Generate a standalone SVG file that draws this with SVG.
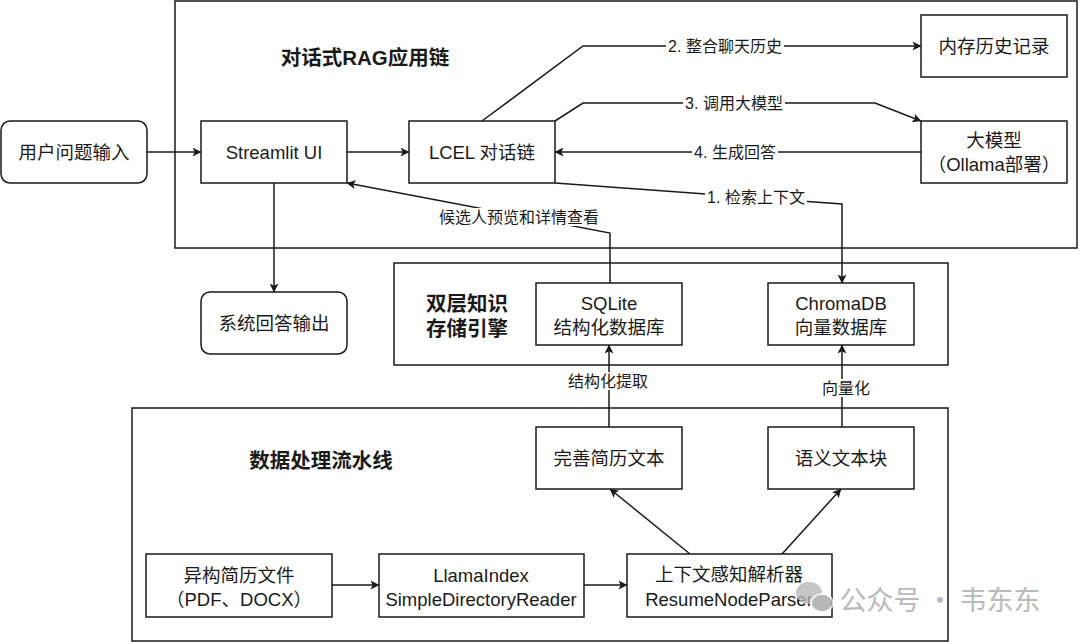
<svg xmlns="http://www.w3.org/2000/svg" width="1080" height="642" viewBox="0 0 1080 642">
<defs>
<marker id="arr" viewBox="0 0 10 10" refX="9.5" refY="5" markerWidth="9" markerHeight="9" markerUnits="userSpaceOnUse" orient="auto">
<path d="M0,0 L10,5 L0,10 L2.5,5 z" fill="#1a1a1a"/>
</marker>
<style>
.box{fill:#fff;stroke:#1a1a1a;stroke-width:1.5}
.cont{fill:none;stroke:#1a1a1a;stroke-width:1.5}
.t{font-family:"Liberation Sans","Noto Sans CJK SC",sans-serif;font-size:18.5px;fill:#1a1a1a;text-anchor:middle;dominant-baseline:central}
.title{font-family:"Liberation Sans","Noto Sans CJK SC",sans-serif;font-size:20.5px;font-weight:bold;fill:#1a1a1a;text-anchor:middle;dominant-baseline:central}
.lbl{font-family:"Liberation Sans","Noto Sans CJK SC",sans-serif;font-size:16px;fill:#1a1a1a;text-anchor:middle;dominant-baseline:central}
.e{fill:none;stroke:#1a1a1a;stroke-width:1.5}
.bg{fill:#fff}
</style>
</defs>
<rect width="1080" height="642" fill="#fff"/>

<!-- containers -->
<g id="container-rag">
<rect class="cont" x="175" y="1" width="902" height="247"/>
<text class="title" x="365" y="57">对话式RAG应用链</text>
</g>
<g id="container-storage">
<rect class="cont" x="394" y="263" width="554" height="102"/>
<text class="title" x="467" y="303">双层知识</text>
<text class="title" x="467" y="328">存储引擎</text>
</g>
<g id="container-pipeline">
<rect class="cont" x="132" y="408" width="816" height="233"/>
<text class="title" x="321" y="460">数据处理流水线</text>
</g>

<!-- connectors -->
<g id="connectors">
<line class="e" x1="147" y1="152" x2="201" y2="152" marker-end="url(#arr)"/>
<line class="e" x1="347" y1="152" x2="409" y2="152" marker-end="url(#arr)"/>
<line class="e" x1="274" y1="183" x2="274" y2="292" marker-end="url(#arr)"/>
<polyline class="e" points="482,121 583,46 921,46" marker-end="url(#arr)"/>
<polyline class="e" points="555,121 583,103 875,103 921,121" marker-end="url(#arr)"/>
<line class="e" x1="921" y1="152" x2="555" y2="152" marker-end="url(#arr)"/>
<polyline class="e" points="555,183 842,204 842,283" marker-end="url(#arr)"/>
<polyline class="e" points="610,283 610,233 347,183" marker-end="url(#arr)"/>
<line class="e" x1="609" y1="427" x2="609" y2="345" marker-end="url(#arr)"/>
<line class="e" x1="842" y1="427" x2="842" y2="345" marker-end="url(#arr)"/>
<line class="e" x1="332" y1="585" x2="379" y2="585" marker-end="url(#arr)"/>
<line class="e" x1="584" y1="585" x2="627" y2="585" marker-end="url(#arr)"/>
<line class="e" x1="690" y1="554" x2="610" y2="489" marker-end="url(#arr)"/>
<line class="e" x1="782" y1="554" x2="841" y2="489" marker-end="url(#arr)"/>

<rect class="bg" x="666" y="37" width="118" height="18"/>
<text class="lbl" x="725" y="46">2. 整合聊天历史</text>
<rect class="bg" x="683" y="94" width="102" height="18"/>
<text class="lbl" x="734" y="103">3. 调用大模型</text>
<rect class="bg" x="692" y="143" width="86" height="18"/>
<text class="lbl" x="735" y="152">4. 生成回答</text>
<rect class="bg" x="705" y="188" width="102" height="18"/>
<text class="lbl" x="756" y="197">1. 检索上下文</text>
<rect class="bg" x="437" y="208" width="164" height="18"/>
<text class="lbl" x="519" y="217">候选人预览和详情查看</text>
<rect class="bg" x="565" y="372" width="86" height="18"/>
<text class="lbl" x="608" y="381">结构化提取</text>
<rect class="bg" x="820" y="379" width="52" height="18"/>
<text class="lbl" x="846" y="388">向量化</text>
</g>

<!-- nodes -->
<g id="node-user-input">
<rect class="box" x="1" y="121" width="146" height="62" rx="9"/>
<text class="t" x="74" y="152">用户问题输入</text>
</g>
<g id="node-streamlit">
<rect class="box" x="201" y="121" width="146" height="62"/>
<text class="t" x="274" y="152">Streamlit UI</text>
</g>
<g id="node-lcel">
<rect class="box" x="409" y="121" width="146" height="62"/>
<text class="t" x="482" y="152">LCEL 对话链</text>
</g>
<g id="node-memory">
<rect class="box" x="921" y="15" width="146" height="62"/>
<text class="t" x="994" y="46">内存历史记录</text>
</g>
<g id="node-llm">
<rect class="box" x="921" y="121" width="146" height="62"/>
<text class="t" x="994" y="140">大模型</text>
<text class="t" x="994" y="164">（Ollama部署）</text>
</g>
<g id="node-output">
<rect class="box" x="201" y="292" width="146" height="62" rx="9"/>
<text class="t" x="274" y="323">系统回答输出</text>
</g>
<g id="node-sqlite">
<rect class="box" x="536" y="283" width="146" height="62"/>
<text class="t" x="609" y="303">SQLite</text>
<text class="t" x="609" y="327">结构化数据库</text>
</g>
<g id="node-chroma">
<rect class="box" x="768" y="283" width="146" height="62"/>
<text class="t" x="841" y="303">ChromaDB</text>
<text class="t" x="841" y="327">向量数据库</text>
</g>
<g id="node-resume-text">
<rect class="box" x="536" y="427" width="146" height="62"/>
<text class="t" x="609" y="458">完善简历文本</text>
</g>
<g id="node-chunks">
<rect class="box" x="768" y="427" width="146" height="62"/>
<text class="t" x="841" y="458">语义文本块</text>
</g>
<g id="node-files">
<rect class="box" x="146" y="554" width="186" height="63"/>
<text class="t" x="239" y="575">异构简历文件</text>
<text class="t" x="239" y="599">（PDF、DOCX）</text>
</g>
<g id="node-reader">
<rect class="box" x="379" y="554" width="205" height="63"/>
<text class="t" x="481" y="575">LlamaIndex</text>
<text class="t" x="481" y="599">SimpleDirectoryReader</text>
</g>
<g id="node-parser">
<rect class="box" x="627" y="554" width="205" height="63"/>
<text class="t" x="729" y="574">上下文感知解析器</text>
<text class="t" x="729" y="599">ResumeNodeParser</text>
</g>

<!-- watermark -->
<g id="watermark" opacity="0.8">
<ellipse cx="809" cy="593" rx="13" ry="11" fill="#b8b8b8"/>
<ellipse cx="822" cy="603" rx="11" ry="9" fill="#a8a8a8" stroke="#fff" stroke-width="1.5"/>
<text x="940" y="598" style="font-family:'Noto Sans CJK SC',sans-serif;font-size:27px;fill:#a9a9a9;text-anchor:middle;dominant-baseline:central">公众号 · 韦东东</text>
</g>
</svg>
